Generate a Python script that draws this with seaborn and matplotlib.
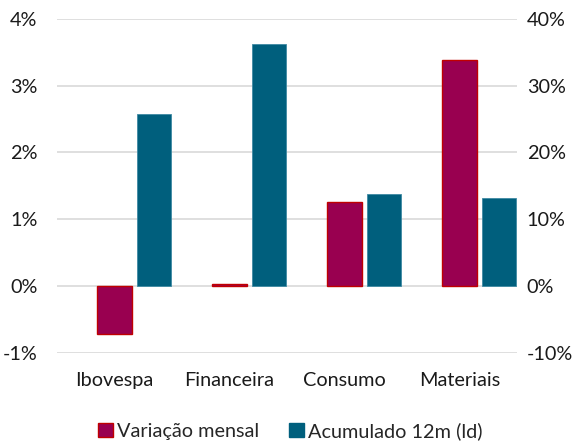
import pandas as pd
import matplotlib.pyplot as plt
import seaborn as sns
from matplotlib.patches import Patch

setores = ['Ibovespa', 'Financeira', 'Consumo', 'Materiais']
variacao_mensal = [-0.72, 0.03, 1.26, 3.38]      # % (eixo esquerdo)
acumulado_12m = [25.7, 36.3, 13.7, 13.1]         # % (eixo direito)
series = ['Variação mensal', 'Acumulado 12m (ld)']

# eixo direito = 10x eixo esquerdo, então plotamos o acumulado /10 no mesmo eixo
df = pd.DataFrame({
    'Setor': setores * 2,
    'Serie': [series[0]] * 4 + [series[1]] * 4,
    'Valor': variacao_mensal + [v / 10 for v in acumulado_12m],
})

sns.set_theme(style='white')
plt.rcParams['font.family'] = ['Lato', 'DejaVu Sans']

cores = {series[0]: '#990050', series[1]: '#005F7D'}
FS = 14.3
LARG = 0.687
desloc = LARG / 4   # no Excel a barra mensal fica centrada no rótulo

fig = plt.figure(figsize=(5.81, 4.41), dpi=100)
ax = fig.add_axes([57 / 581, 1 - 352.5 / 441, 460 / 581, 333.5 / 441])

sns.barplot(data=df, x='Setor', y='Valor', hue='Serie', hue_order=series,
            palette=cores, width=LARG, gap=0.115, ax=ax, legend=False,
            saturation=1)

for bar in ax.patches[:4]:
    bar.set_edgecolor('#C00000')
    bar.set_linewidth(1.0)
for bar in ax.patches[4:8]:
    bar.set_edgecolor('#3F8AA3')
    bar.set_linewidth(0.6)

ax.set_ylim(-1, 4)
ax.set_xlim(-0.5 - desloc, 3.5 - desloc)
ax.set_xticks([i - desloc for i in range(len(setores))])
ax.set_xticklabels(setores)
ax.set_yticks(range(-1, 5))
ax.set_yticklabels([f'{v}%' for v in range(-1, 5)])
ax.grid(axis='y', color='#D9D9D9', linewidth=1.2)
ax.set_axisbelow(True)
for s in ax.spines.values():
    s.set_visible(False)
ax.set_xlabel('')
ax.set_ylabel('')
ax.tick_params(axis='y', length=0, pad=14, labelsize=FS, labelcolor='#1a1a1a')
ax.tick_params(axis='x', length=0, pad=14, labelsize=FS, labelcolor='#1a1a1a')

ax2 = ax.twinx()
ax2.set_ylim(-10, 40)
ax2.set_yticks(range(-10, 50, 10))
ax2.set_yticklabels([f'{v}%' for v in range(-10, 50, 10)])
for s in ax2.spines.values():
    s.set_visible(False)
ax2.tick_params(axis='y', length=0, pad=7, labelsize=FS, labelcolor='#1a1a1a')
ax2.grid(False)

handles = [Patch(facecolor=cores[series[0]], edgecolor='#C00000', label=series[0]),
           Patch(facecolor=cores[series[1]], edgecolor=cores[series[1]], label=series[1])]
fig.legend(handles=handles, loc='lower center', bbox_to_anchor=(0.5, -0.038), ncol=2,
           frameon=False, fontsize=FS, handlelength=0.75, handleheight=0.75,
           handletextpad=0.2, columnspacing=1.5)

fig.savefig('out.png', dpi=100)
